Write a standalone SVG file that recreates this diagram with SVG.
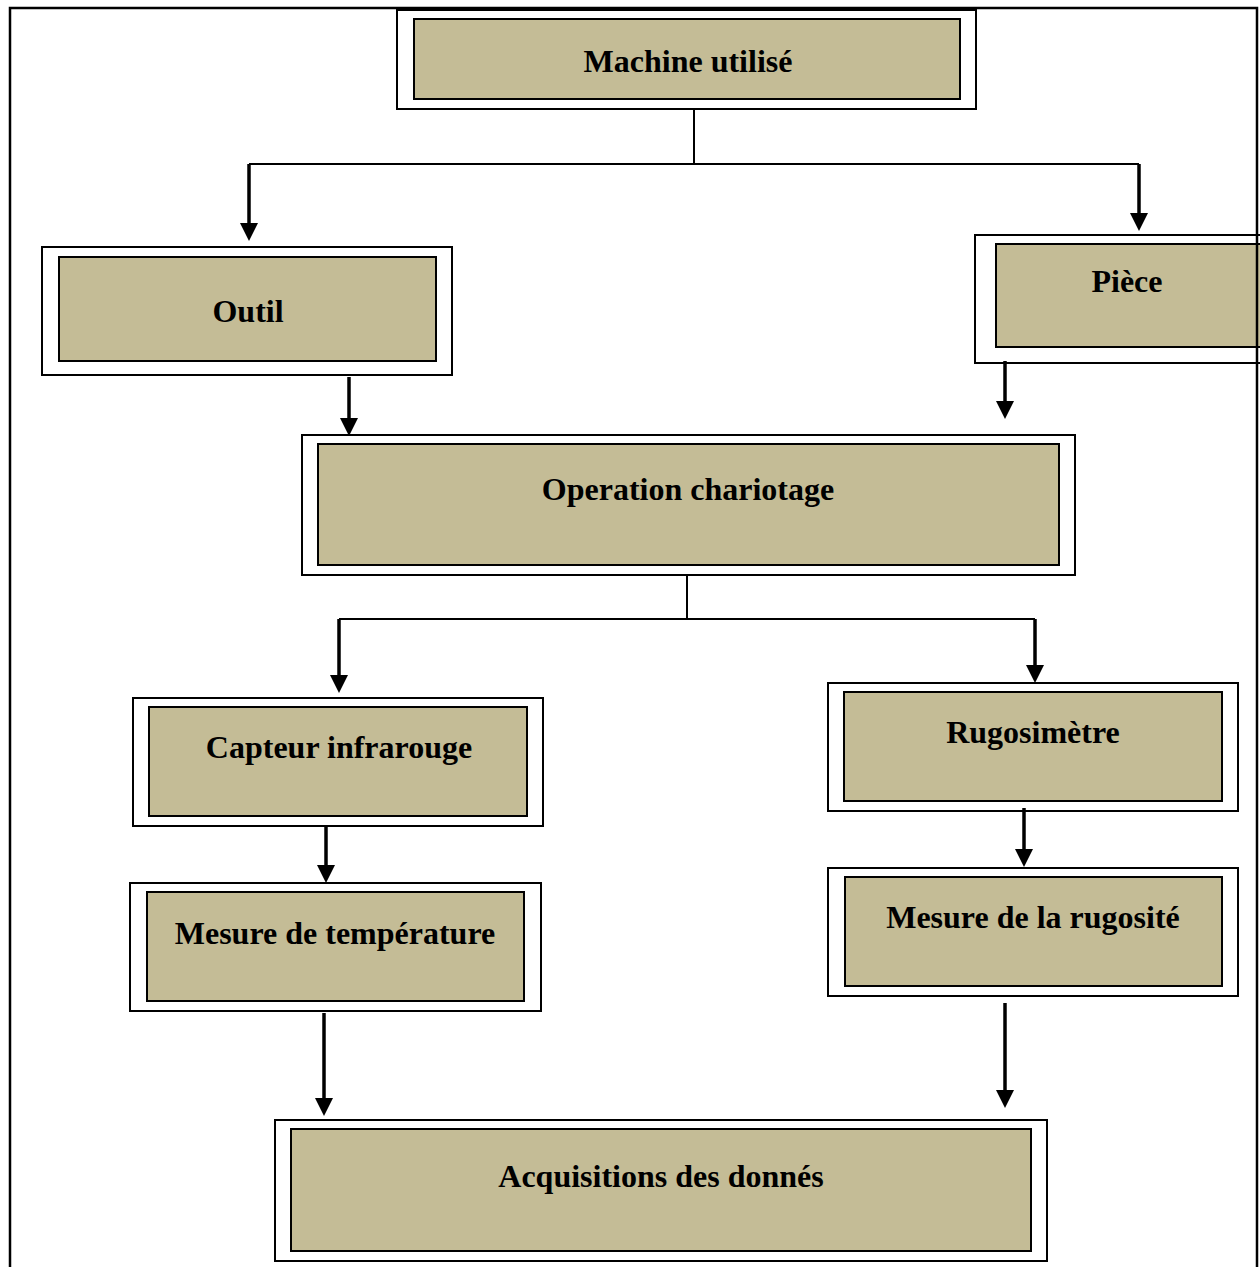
<svg xmlns="http://www.w3.org/2000/svg" width="1260" height="1267" viewBox="0 0 1260 1267">
<defs>
<style>
.outer{fill:#ffffff;stroke:#000;stroke-width:2}
.inner{fill:#C4BC96;stroke:#000;stroke-width:2}
.lbl{font-family:"Liberation Serif","Times New Roman",serif;font-weight:bold;font-size:32px;fill:#000;text-anchor:middle}
.conn{fill:none;stroke:#000;stroke-width:2}
.arr{fill:none;stroke:#000;stroke-width:3.5;marker-end:url(#ah)}
</style>
<marker id="ah" viewBox="0 0 18 18" refX="8" refY="9" markerWidth="18" markerHeight="18" markerUnits="userSpaceOnUse" orient="auto">
<path d="M0,0 L18,9 L0,18 z" fill="#000"/>
</marker>
</defs>
<rect width="1260" height="1267" fill="#fff"/>
<g id="n-machine">
<rect class="outer" x="397" y="10" width="579" height="99"/>
<rect class="inner" x="414" y="19" width="546" height="80"/>
<text class="lbl" x="688" y="72">Machine utilisé</text>
</g>
<g id="n-outil">
<rect class="outer" x="42" y="247" width="410" height="128"/>
<rect class="inner" x="59" y="257" width="377" height="104"/>
<text class="lbl" x="248" y="322">Outil</text>
</g>
<g id="n-piece">
<rect class="outer" x="975" y="235" width="300" height="128"/>
<rect class="inner" x="996" y="244" width="279" height="103"/>
<text class="lbl" x="1127" y="292">Pièce</text>
</g>
<g id="n-operation">
<rect class="outer" x="302" y="435" width="773" height="140"/>
<rect class="inner" x="318" y="444" width="741" height="121"/>
<text class="lbl" x="688" y="500">Operation chariotage</text>
</g>
<g id="n-capteur">
<rect class="outer" x="133" y="698" width="410" height="128"/>
<rect class="inner" x="149" y="707" width="378" height="109"/>
<text class="lbl" x="339" y="758">Capteur infrarouge</text>
</g>
<g id="n-rugosimetre">
<rect class="outer" x="828" y="683" width="410" height="128"/>
<rect class="inner" x="844" y="692" width="378" height="109"/>
<text class="lbl" x="1033" y="743">Rugosimètre</text>
</g>
<g id="n-mesure-temp">
<rect class="outer" x="130" y="883" width="411" height="128"/>
<rect class="inner" x="147" y="892" width="377" height="109"/>
<text class="lbl" x="335" y="944">Mesure de température</text>
</g>
<g id="n-mesure-rug">
<rect class="outer" x="828" y="868" width="410" height="128"/>
<rect class="inner" x="845" y="877" width="377" height="109"/>
<text class="lbl" x="1033" y="928">Mesure de la rugosité</text>
</g>
<g id="n-acquisitions">
<rect class="outer" x="275" y="1120" width="772" height="141"/>
<rect class="inner" x="291" y="1129" width="740" height="122"/>
<text class="lbl" x="661" y="1187">Acquisitions des donnés</text>
</g>
<g id="connectors">
<path class="conn" d="M694,109 V164 M249,164 H1139 M687,575 V619 M339,619 H1035"/>
<line class="arr" x1="249" y1="164" x2="249" y2="231"/>
<line class="arr" x1="1139" y1="164" x2="1139" y2="221"/>
<line class="arr" x1="349" y1="377" x2="349" y2="426"/>
<line class="arr" x1="1005" y1="361" x2="1005" y2="409"/>
<line class="arr" x1="339" y1="619" x2="339" y2="683"/>
<line class="arr" x1="1035" y1="619" x2="1035" y2="673"/>
<line class="arr" x1="326" y1="826" x2="326" y2="873"/>
<line class="arr" x1="1024" y1="808" x2="1024" y2="857"/>
<line class="arr" x1="324" y1="1013" x2="324" y2="1106"/>
<line class="arr" x1="1005" y1="1003" x2="1005" y2="1098"/>
</g>
<g id="frame">
<path d="M10,1268 V8 H1257 V1268" fill="none" stroke="#000" stroke-width="2.5"/>
</g>
</svg>
